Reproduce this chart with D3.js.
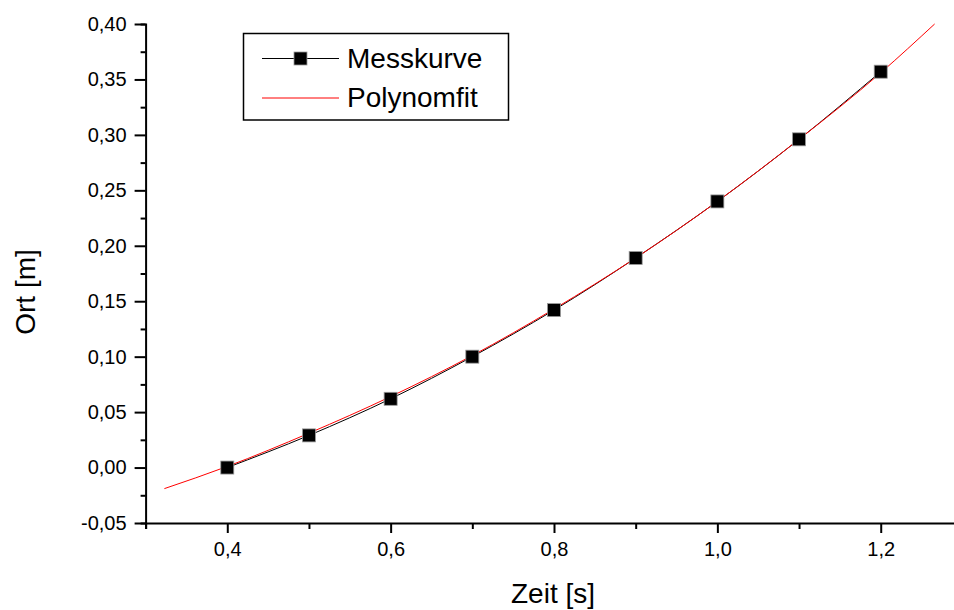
<!DOCTYPE html>
<html>
<head>
<meta charset="utf-8">
<script src="https://cdn.jsdelivr.net/npm/d3@7"></script>
<style>
  body { margin: 0; background: #fff; }
  svg { font-family: "Liberation Sans", Arial, sans-serif; }
</style>
</head>
<body>
<div id="chart"></div>
<script>
// Messkurve (measured points)
const zeit = [0.4, 0.5, 0.6, 0.7, 0.8, 0.9, 1.0, 1.1, 1.2];
const ort = [0.000, 0.029, 0.062, 0.100, 0.142, 0.189, 0.240, 0.296, 0.357];

// Polynomfit
const fitZeit = [0.323, 0.4, 0.5, 0.6, 0.7, 0.8, 0.9, 1.0, 1.1, 1.2, 1.266];
const fitOrt = [-0.019, 0.001, 0.031, 0.064, 0.101, 0.143, 0.189, 0.240, 0.296, 0.356, 0.400];

const xMajor = [0.4, 0.6, 0.8, 1.0, 1.2];
const xMinor = [0.3, 0.5, 0.7, 0.9, 1.1, 1.3];
const yMajor = [-0.05, 0.00, 0.05, 0.10, 0.15, 0.20, 0.25, 0.30, 0.35, 0.40];
const yMinor = [-0.025, 0.025, 0.075, 0.125, 0.175, 0.225, 0.275, 0.325, 0.375];

const legendLabels = ["Messkurve", "Polynomfit"];

const width = 954, height = 610;

const svg = d3.select("#chart")
    .append("svg")
    .attr("width", width)
    .attr("height", height);

const x = d3.scaleLinear().domain([0.3, 1.3]).range([145.6, 962.4]);
const y = d3.scaleLinear().domain([-0.05, 0.40]).range([523, 24]);

// german number format
const de = d3.formatLocale({ decimal: ",", thousands: ".", grouping: [3], currency: ["", " €"], minus: "-" });
const fx = de.format(".1f");
const fy = de.format(".2f");

// axes (major + minor as separate axis calls)
const xAxis = svg.append("g").attr("transform", "translate(0," + y(-0.05) + ")");
xAxis.call(d3.axisBottom(x).tickValues(xMajor).tickFormat(fx).tickSize(10).tickPadding(9));
xAxis.append("g").call(d3.axisBottom(x).tickValues(xMinor).tickFormat("").tickSize(6));

const yAxis = svg.append("g").attr("transform", "translate(" + x(0.3) + ",0)");
yAxis.call(d3.axisLeft(y).tickValues(yMajor).tickFormat(fy).tickSize(11).tickPadding(8));
yAxis.append("g").call(d3.axisLeft(y).tickValues(yMinor).tickFormat("").tickSize(5));

svg.selectAll(".domain").attr("stroke", "#000").attr("stroke-width", 2);
svg.selectAll(".tick line").attr("stroke", "#000").attr("stroke-width", 2);
svg.selectAll(".tick text").attr("fill", "#000").attr("font-size", 20);
// the minor axes draw their own domain, hide those
xAxis.select("g .domain").remove();
yAxis.select("g .domain").remove();

// axis titles
svg.append("text")
    .attr("x", 553).attr("y", 603)
    .attr("text-anchor", "middle")
    .attr("font-size", 28)
    .text("Zeit [s]");

svg.append("text")
    .attr("transform", "translate(35,292) rotate(-90)")
    .attr("text-anchor", "middle")
    .attr("font-size", 28)
    .text("Ort [m]");

const line = d3.line().curve(d3.curveMonotoneX);

// measured line
svg.append("path")
    .attr("d", line(zeit.map((t, i) => [x(t), y(ort[i])])))
    .attr("fill", "none")
    .attr("stroke", "#000")
    .attr("stroke-width", 1);

// fit line
svg.append("path")
    .attr("d", line(fitZeit.map((t, i) => [x(t), y(fitOrt[i])])))
    .attr("fill", "none")
    .attr("stroke", "#ff0000")
    .attr("stroke-width", 1);

// markers
const ms = 13;
svg.selectAll(".marker")
    .data(zeit)
    .join("rect")
    .attr("class", "marker")
    .attr("x", (d) => x(d) - ms / 2)
    .attr("y", (d, i) => y(ort[i]) - ms / 2)
    .attr("width", ms)
    .attr("height", ms)
    .attr("fill", "#000")
    .attr("stroke", "#999")
    .attr("stroke-width", 0.8);

// legend
const lg = svg.append("g");
lg.append("rect")
    .attr("x", 243.5).attr("y", 33.5)
    .attr("width", 265).attr("height", 86.5)
    .attr("fill", "#fff")
    .attr("stroke", "#000")
    .attr("stroke-width", 1.5);

lg.append("line")
    .attr("x1", 262).attr("x2", 339).attr("y1", 58.5).attr("y2", 58.5)
    .attr("stroke", "#000").attr("stroke-width", 1);
lg.append("rect")
    .attr("x", 300.5 - ms / 2).attr("y", 58.5 - ms / 2)
    .attr("width", ms).attr("height", ms)
    .attr("fill", "#000").attr("stroke", "#999").attr("stroke-width", 0.8);
lg.append("line")
    .attr("x1", 262).attr("x2", 339).attr("y1", 98).attr("y2", 98)
    .attr("stroke", "#ff0000").attr("stroke-width", 1);

lg.selectAll(".lgtext")
    .data(legendLabels)
    .join("text")
    .attr("class", "lgtext")
    .attr("x", 347)
    .attr("y", (d, i) => 68 + i * 39)
    .attr("font-size", 28)
    .text((d) => d);
</script>
</body>
</html>
